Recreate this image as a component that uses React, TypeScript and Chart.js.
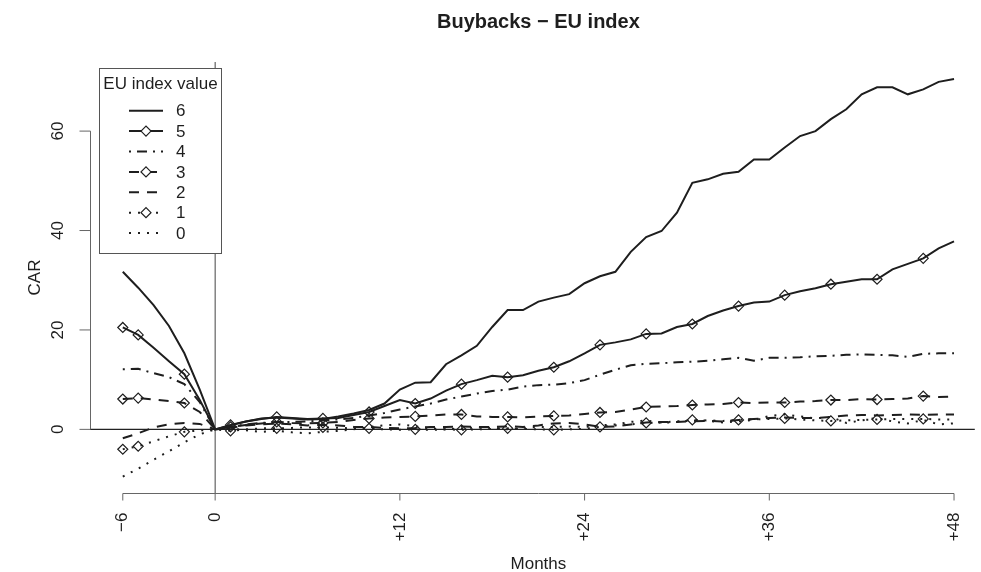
import React, { useEffect, useRef } from "react";
import { Chart, registerables } from "chart.js";
Chart.register(...registerables);

const titleText = "Buybacks \u2212 EU index";
const xTitle = "Months";
const yTitle = "CAR";
const legendTitle = "EU index value";

const months = [
  -6, -5, -4, -3, -2, -1, 0,
  1, 2, 3, 4, 5, 6, 7, 8, 9, 10, 11, 12,
  13, 14, 15, 16, 17, 18, 19, 20, 21, 22, 23, 24,
  25, 26, 27, 28, 29, 30, 31, 32, 33, 34, 35, 36,
  37, 38, 39, 40, 41, 42, 43, 44, 45, 46, 47, 48,
];
const markerMonths = [-6, -5, -2, 1, 4, 7, 10, 13, 16, 19, 22, 25, 28, 31, 34, 37, 40, 43, 46];

const xTickValues = [-6, 0, 12, 24, 36, 48];
const xTickLabels = ["\u22126", "0", "+12", "+24", "+36", "+48"];
const yTickValues = [0, 20, 40, 60];
const yTickLabels = ["0", "20", "40", "60"];

const eu6 = [
  31.7, 28.5, 25.0, 20.8, 15.3, 8.0, 0,
  0.8, 1.6, 2.2, 2.4, 2.2, 2.0, 2.1, 2.6, 3.2, 3.9, 5.2, 8.0,
  9.4, 9.5, 13.1, 14.9, 16.8, 20.6, 24.0, 24.0, 25.7, 26.5, 27.2, 29.4,
  30.8, 31.7, 35.7, 38.7, 39.9, 43.6, 49.6, 50.3, 51.4, 51.8, 54.3, 54.3,
  56.7, 59.0, 60.0, 62.4, 64.4, 67.4, 68.8, 68.8, 67.4, 68.4, 69.9, 70.5,
];
const eu5 = [
  20.5, 19.0, 16.4, 13.7, 11.1, 5.9, 0,
  0.9, 1.6, 2.1, 2.5, 2.3, 2.1, 2.2, 2.3, 2.9, 3.5, 4.7, 5.9,
  5.2, 6.2, 7.8, 9.1, 9.9, 10.8, 10.5, 10.9, 11.8, 12.5, 13.7, 15.3,
  17.0, 17.5, 18.1, 19.2, 19.3, 20.6, 21.2, 22.8, 23.9, 24.8, 25.5, 25.7,
  27.0, 27.8, 28.4, 29.2, 29.7, 30.2, 30.2, 32.2, 33.3, 34.4, 36.4, 37.8,
];
const eu4 = [
  12.1, 12.2, 11.3, 10.5, 9.1, 5.5, 0,
  0.5, 1.0, 1.3, 1.5, 1.5, 1.6, 1.8, 2.0, 2.3, 2.8, 3.3, 4.0,
  4.6, 5.2, 6.0, 6.6, 7.2, 7.7, 8.0, 8.6, 8.9, 9.0, 9.3, 9.9,
  11.0, 12.0, 12.9, 13.2, 13.3, 13.5, 13.6, 13.8, 14.1, 14.4, 13.8, 14.4,
  14.4, 14.5, 14.7, 14.8, 15.0, 15.1, 15.0, 14.9, 14.6, 15.2, 15.3, 15.3,
];
const eu3 = [
  6.1, 6.3, 6.0, 5.7, 5.3, 3.5, 0,
  0.5, 0.9, 1.2, 1.5, 1.3, 1.2, 1.3, 1.5, 1.9, 2.2, 2.4, 2.5,
  2.6, 2.8, 3.0, 3.0, 2.6, 2.5, 2.5, 2.4, 2.6, 2.7, 2.8, 3.1,
  3.4, 3.5, 4.0, 4.5, 4.6, 4.7, 4.9, 5.0, 5.1, 5.4, 5.3, 5.4,
  5.4, 5.6, 5.7, 5.9, 5.9, 6.1, 6.0, 6.1, 6.2, 6.7, 6.5, 6.6,
];
const eu2 = [
  -1.8, -0.8, 0.4, 1.0, 1.3, 1.1, 0,
  0.3, 0.8, 1.0, 1.2, 1.0, 0.8, 0.9, 0.8, 0.5, 0.5, 0.3, 0.2,
  0.3, 0.5, 0.5, 0.6, 0.5, 0.5, 0.6, 0.5, 0.8, 1.2, 1.3, 1.0,
  0.5, 0.6, 1.0, 1.4, 1.5, 1.5, 1.6, 1.7, 1.6, 1.9, 2.1, 2.3,
  2.4, 2.3, 2.3, 2.5, 2.8, 2.9, 2.8, 2.9, 3.0, 2.9, 3.0, 3.0,
];
const eu1 = [
  -4.0, -3.4, -2.4, -1.4, -0.5, -0.2, 0,
  -0.3, 0.0, 0.2, 0.2, 0.3, 0.4, 0.4, 0.3, 0.2, 0.2, 0.0, -0.1,
  0.0, -0.1, 0.0, -0.1, 0.0, 0.1, 0.2, 0.1, 0.0, -0.1, 0.0, 0.1,
  0.5, 0.8, 1.0, 1.3, 1.4, 1.6, 1.9, 1.8, 1.7, 1.9, 2.0, 2.1,
  2.2, 2.0, 1.8, 1.7, 1.8, 1.9, 2.0, 2.1, 2.1, 2.1, 2.0, 2.0,
];
const eu0 = [
  -9.5, -7.9, -6.1, -4.4, -2.6, -1.0, 0,
  0.2, -0.2, -0.5, -0.3, -0.6, -0.8, -0.5, -0.3, 0.0, 0.5, 0.8, 1.0,
  0.6, 0.2, 0.0, 0.2, 0.4, 0.3, 0.0, 0.3, 0.5, 0.5, 0.6, 0.5,
  0.8, 1.0, 1.5, 1.8, 1.3, 1.5, 1.8, 1.7, 1.4, 1.6, 1.9, 2.7,
  3.0, 2.6, 2.2, 2.5, 1.3, 1.8, 2.3, 1.6, 1.2, 1.9, 1.0, 1.2,
];

const seriesLabels = ["6", "5", "4", "3", "2", "1", "0"];
const seriesValues = [eu6, eu5, eu4, eu3, eu2, eu1, eu0];
const seriesMarkers = [false, true, false, true, false, true, false];
const seriesDash: number[][] = [[], [], [2, 6, 10, 6], [10, 8], [10, 8], [2, 7], [2, 7]];

const INK = "#1e1e1e";
const FONT = '"Liberation Sans", Arial, Helvetica, sans-serif';

function drawDiamond(ctx: CanvasRenderingContext2D, x: number, y: number, r: number) {
  ctx.save();
  ctx.setLineDash([]);
  ctx.lineWidth = 1.2;
  ctx.strokeStyle = INK;
  ctx.beginPath();
  ctx.moveTo(x - r, y);
  ctx.lineTo(x, y - r);
  ctx.lineTo(x + r, y);
  ctx.lineTo(x, y + r);
  ctx.closePath();
  ctx.fillStyle = "#fff";
  ctx.fill();
  ctx.stroke();
  ctx.restore();
}

const decorPlugin = {
  id: "rDecor",
  beforeDatasetsDraw(chart: any) {
    const { ctx, chartArea, scales } = chart;
    const xs = scales.x;
    const ys = scales.y;
    ctx.save();
    const y0 = ys.getPixelForValue(0);
    ctx.strokeStyle = "#222";
    ctx.lineWidth = 1.3;
    ctx.beginPath();
    ctx.moveTo(chartArea.left, y0);
    ctx.lineTo(chartArea.right, y0);
    ctx.stroke();
    const x0 = xs.getPixelForValue(0);
    ctx.strokeStyle = "#444";
    ctx.lineWidth = 1;
    ctx.beginPath();
    ctx.moveTo(x0, chartArea.top);
    ctx.lineTo(x0, chartArea.bottom);
    ctx.stroke();
    ctx.restore();
  },
  afterDatasetsDraw(chart: any) {
    const { ctx, chartArea, scales } = chart;
    const xs = scales.x;
    const ys = scales.y;
    ctx.save();
    ctx.setLineDash([]);
    // Y axis
    ctx.strokeStyle = "#666";
    ctx.lineWidth = 1;
    const ax = Math.round(chartArea.left) + 0.5;
    ctx.beginPath();
    ctx.moveTo(ax, ys.getPixelForValue(yTickValues[0]));
    ctx.lineTo(ax, ys.getPixelForValue(yTickValues[yTickValues.length - 1]));
    ctx.stroke();
    ctx.fillStyle = INK;
    ctx.font = `17px ${FONT}`;
    yTickValues.forEach((v, i) => {
      const py = ys.getPixelForValue(v);
      ctx.beginPath();
      ctx.moveTo(ax - 11, py);
      ctx.lineTo(ax, py);
      ctx.stroke();
      ctx.save();
      ctx.translate(58, py);
      ctx.rotate(-Math.PI / 2);
      ctx.textAlign = "center";
      ctx.textBaseline = "middle";
      ctx.fillText(yTickLabels[i], 0, 0);
      ctx.restore();
    });
    // X axis
    const by = Math.round(chartArea.bottom) + 0.5;
    ctx.beginPath();
    ctx.moveTo(xs.getPixelForValue(xTickValues[0]), by);
    ctx.lineTo(xs.getPixelForValue(xTickValues[xTickValues.length - 1]), by);
    ctx.stroke();
    xTickValues.forEach((v, i) => {
      const px = xs.getPixelForValue(v);
      ctx.beginPath();
      ctx.moveTo(px, by);
      ctx.lineTo(px, by + 7);
      ctx.stroke();
      ctx.save();
      ctx.translate(px, by + 19);
      ctx.rotate(-Math.PI / 2);
      ctx.textAlign = "right";
      ctx.textBaseline = "middle";
      ctx.fillText(xTickLabels[i], 0, 0);
      ctx.restore();
    });
    // Titles
    const cx = xs.getPixelForValue(21);
    ctx.textAlign = "center";
    ctx.textBaseline = "alphabetic";
    ctx.font = `bold 20px ${FONT}`;
    ctx.fillText(titleText, cx, 28);
    ctx.font = `17px ${FONT}`;
    ctx.fillText(xTitle, cx, 569);
    ctx.save();
    ctx.translate(35, (chartArea.top + chartArea.bottom) / 2);
    ctx.rotate(-Math.PI / 2);
    ctx.textBaseline = "middle";
    ctx.fillText(yTitle, 0, 0);
    ctx.restore();

    // Legend
    const lx = 99.5, ly = 68.5, lw = 122, lh = 185;
    ctx.fillStyle = "#fff";
    ctx.fillRect(lx, ly, lw, lh);
    ctx.strokeStyle = "#555";
    ctx.lineWidth = 1;
    ctx.strokeRect(lx, ly, lw, lh);
    ctx.fillStyle = INK;
    ctx.font = `17px ${FONT}`;
    ctx.textAlign = "center";
    ctx.textBaseline = "middle";
    ctx.fillText(legendTitle, lx + lw / 2, 84);
    seriesLabels.forEach((lab, i) => {
      const ry = 110.7 + i * 20.4;
      ctx.save();
      ctx.strokeStyle = INK;
      ctx.lineWidth = 2;
      ctx.setLineDash(seriesDash[i]);
      ctx.beginPath();
      ctx.moveTo(129, ry);
      ctx.lineTo(163, ry);
      ctx.stroke();
      ctx.restore();
      if (seriesMarkers[i]) drawDiamond(ctx, 146, ry, 5);
      ctx.fillStyle = INK;
      ctx.textAlign = "left";
      ctx.fillText(lab, 176, ry + 1);
    });
    ctx.restore();
  },
};

export default function App() {
  const ref = useRef<HTMLCanvasElement | null>(null);
  useEffect(() => {
    if (!ref.current) return;
    const datasets = seriesValues.map((vals, i) => ({
      label: seriesLabels[i],
      data: months.map((m, j) => ({ x: m, y: vals[j] })),
      borderColor: INK,
      borderWidth: 2,
      borderDash: seriesDash[i],
      fill: false,
      tension: 0,
      pointStyle: "rectRot",
      pointRadius: (c: any) =>
        seriesMarkers[i] && markerMonths.includes(months[c.dataIndex]) ? 5 : 0,
      pointBorderColor: INK,
      pointBackgroundColor: "rgba(0,0,0,0)",
      pointBorderWidth: 1.2,
    }));
    const chart = new Chart(ref.current, {
      type: "line",
      data: { datasets } as any,
      options: {
        responsive: false,
        animation: false,
        devicePixelRatio: 1,
        layout: { padding: { left: 90, top: 62, right: 0, bottom: 79 } },
        plugins: {
          legend: { display: false },
          title: { display: false },
          tooltip: { enabled: false },
        },
        events: [],
        scales: {
          x: { type: "linear", display: false, min: -8.13, max: 49.35 },
          y: { type: "linear", display: false, min: -12.8, max: 73.9 },
        },
      } as any,
      plugins: [decorPlugin],
    });
    return () => chart.destroy();
  }, []);
  return (
    <div style={{ position: "absolute", left: 0, top: 0, width: 981, height: 572, background: "#fff" }}>
      <canvas ref={ref} width={981} height={572} style={{ width: 981, height: 572, display: "block" }} />
    </div>
  );
}
